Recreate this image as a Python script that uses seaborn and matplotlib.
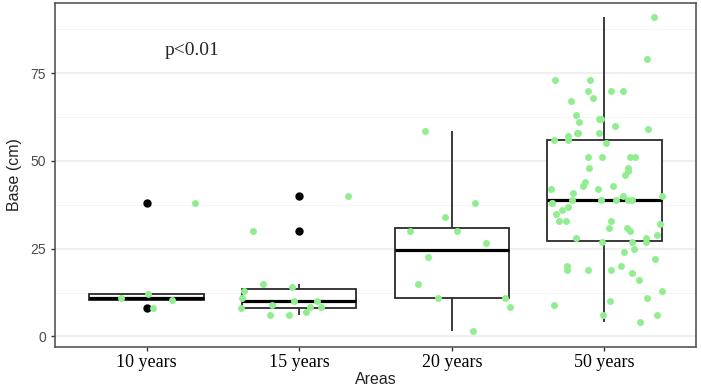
import numpy as np
import pandas as pd
import matplotlib.pyplot as plt
import seaborn as sns

# Values
areas = ["10 years", "15 years", "20 years", "50 years"]
base_10 = [8, 10.5, 11, 12, 38]
base_15 = [40, 30, 15, 13, 14, 11, 10, 10, 9, 8.5, 8.5, 8, 7, 6, 6]
base_20 = [58.5, 38, 34, 30, 30, 26.5, 22.5, 15, 11, 11, 8.5, 1.5]
base_50 = [91, 79, 73, 73, 70, 70, 70, 67, 68, 62, 63, 61, 62, 59, 60, 58,
           58, 58, 56, 57, 55, 56, 51, 51, 51, 51, 48, 47, 48, 46, 44, 43,
           43, 42, 42, 41, 40, 39, 39, 40, 39, 39, 39, 38, 38, 37, 36, 35,
           33, 33, 33, 32, 31, 31, 30, 28, 29, 28, 27, 27, 27, 25, 24, 22,
           20, 19, 19, 20, 19, 18, 16, 13, 11, 10, 9, 6, 6, 4]
y_ticks = [0, 25, 50, 75]
y_minor = [12.5, 37.5, 62.5, 87.5]

groups = [base_10, base_15, base_20, base_50]
df = pd.DataFrame({
    "Areas": np.repeat(areas, [len(g) for g in groups]),
    "Base": np.concatenate(groups),
})

sns.set_style("white")
np.random.seed(3)

fig, ax = plt.subplots(figsize=(7.01, 3.89), dpi=100)
fig.subplots_adjust(left=55 / 701, right=696 / 701, top=1 - 3 / 389, bottom=1 - 347 / 389)

ax.set_axisbelow(True)
ax.set_yticks(y_ticks)
ax.set_yticks(y_minor, minor=True)
ax.grid(which="major", color="#EBEBEB", linewidth=1.1)
ax.grid(which="minor", axis="y", color="#F3F3F3", linewidth=0.7)

sns.boxplot(data=df, x="Areas", y="Base", order=areas, width=0.75,
            color="white", linecolor="#2B2B2B", linewidth=1.3,
            showcaps=False, fliersize=5.0,
            flierprops=dict(marker="o", markerfacecolor="black",
                            markeredgecolor="black"),
            medianprops=dict(color="black", linewidth=2.3),
            ax=ax)
sns.stripplot(data=df, x="Areas", y="Base", order=areas, jitter=0.4,
              color="#90EE90", size=5.0, linewidth=0, zorder=3, ax=ax)

ax.text(0.3, 81.5, "p<0.01", family="Liberation Serif", fontsize=14,
        ha="center", va="center")

ax.set_xlim(-0.6, 3.6)
ax.set_ylim(-3, 95)

for s in ax.spines.values():
    s.set_visible(True)
    s.set_color("#555555")
    s.set_linewidth(1.2)

ax.tick_params(axis="both", which="major", bottom=True, left=True,
               length=3, width=1, color="#333333")
ax.tick_params(axis="y", which="minor", left=False)
ax.tick_params(axis="x", pad=2)
for lab in ax.get_xticklabels():
    lab.set_family("Liberation Serif")
    lab.set_fontsize(13)
    lab.set_color("black")
for lab in ax.get_yticklabels():
    lab.set_family("Liberation Sans")
    lab.set_fontsize(10)
    lab.set_color("#4D4D4D")

ax.set_xlabel("Areas", family="Liberation Sans", fontsize=11.5,
              color="#222222", labelpad=1)
ax.set_ylabel("Base (cm)", family="Liberation Sans", fontsize=11.5,
              color="#222222", labelpad=6)

fig.savefig("out.png", dpi=100)
